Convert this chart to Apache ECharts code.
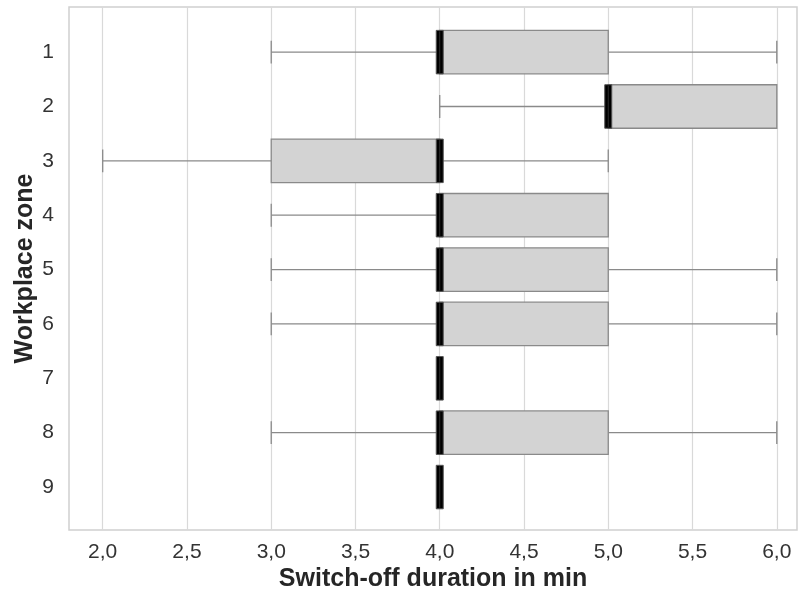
<!DOCTYPE html>
<html>
<head>
<meta charset="utf-8">
<script src="https://cdn.jsdelivr.net/npm/echarts@6/dist/echarts.min.js"></script>
<style>html,body{margin:0;padding:0;background:#fff}#c{width:798px;height:595px}</style>
</head>
<body>
<div id="c"></div>
<script>
// Workplace zones (categories, top to bottom)
const zones   = [1, 2, 3, 4, 5, 6, 7, 8, 9];
// Box statistics: whisker min, Q1, median, Q3, whisker max (min)
const mins    = [3.0, 4.0, 2.0, 3.0, 3.0, 3.0, 4.0, 3.0, 4.0];
const q1s     = [4.0, 5.0, 3.0, 4.0, 4.0, 4.0, 4.0, 4.0, 4.0];
const medians = [4.0, 5.0, 4.0, 4.0, 4.0, 4.0, 4.0, 4.0, 4.0];
const q3s     = [5.0, 6.0, 4.0, 5.0, 5.0, 5.0, 4.0, 5.0, 4.0];
const maxs    = [6.0, 6.0, 5.0, 5.0, 6.0, 6.0, 4.0, 6.0, 4.0];
// Tick values
const xTicks  = [2.0, 2.5, 3.0, 3.5, 4.0, 4.5, 5.0, 5.5, 6.0];
const yTicks  = zones;

const data = zones.map((z, i) => [z, mins[i], q1s[i], medians[i], q3s[i], maxs[i]]);

const font = 'Arial, "Liberation Sans", Helvetica, sans-serif';
const chart = echarts.init(document.getElementById('c'), null, {renderer: 'canvas'});

chart.setOption({
  animation: false,
  backgroundColor: '#fff',
  grid: {left: 69, right: 1, top: 7, bottom: 65, show: true, borderColor: '#d0d0d0', borderWidth: 1.5,
    containLabel: false, outerBoundsMode: 'none'},
  xAxis: {
    type: 'value', min: 1.8, max: 6.12,
    name: 'Switch-off duration in min', nameLocation: 'middle', nameGap: 37, nameMoveOverlap: false,
    nameTextStyle: {fontFamily: font, fontSize: 25, fontWeight: 'bold', color: '#262626'},
    axisLine: {show: false}, axisTick: {show: false, customValues: xTicks},
    axisLabel: {customValues: xTicks, margin: 12, fontFamily: font, fontSize: 21, color: '#333',
      formatter: v => v.toFixed(1).replace('.', ',')},
    splitLine: {show: true, lineStyle: {color: '#d9d9d9', width: 1.2}}
  },
  yAxis: {
    type: 'value', inverse: true, min: 0.17, max: 9.79,
    name: 'Workplace zone', nameLocation: 'middle', nameGap: 31, nameMoveOverlap: false,
    nameTextStyle: {fontFamily: font, fontSize: 25, fontWeight: 'bold', color: '#262626'},
    axisLine: {show: false}, axisTick: {show: false, customValues: yTicks},
    axisLabel: {customValues: yTicks, margin: 15, fontFamily: font, fontSize: 21, color: '#333',
      formatter: v => String(v)},
    splitLine: {show: false}
  },
  series: [{
    type: 'custom',
    coordinateSystem: 'cartesian2d',
    encode: {y: 0, x: [1, 2, 3, 4, 5]},
    data: data,
    renderItem: function (params, api) {
      const y = api.value(0), mn = api.value(1), q1 = api.value(2), md = api.value(3), q3 = api.value(4), mx = api.value(5);
      const unit = api.size([0, 1])[1];
      const boxH = unit * 0.8, capH = unit * 0.42;
      const p = v => api.coord([v, y]);
      const cy = p(md)[1];
      const lineStyle = {stroke: '#8a8a8a', lineWidth: 1.3};
      const ch = [];
      if (mn < q1) {
        ch.push({type: 'line', shape: {x1: p(mn)[0], y1: cy, x2: p(q1)[0], y2: cy}, style: lineStyle});
        ch.push({type: 'line', shape: {x1: p(mn)[0], y1: cy - capH / 2, x2: p(mn)[0], y2: cy + capH / 2}, style: lineStyle});
      }
      if (mx > q3) {
        ch.push({type: 'line', shape: {x1: p(q3)[0], y1: cy, x2: p(mx)[0], y2: cy}, style: lineStyle});
        ch.push({type: 'line', shape: {x1: p(mx)[0], y1: cy - capH / 2, x2: p(mx)[0], y2: cy + capH / 2}, style: lineStyle});
      }
      if (q3 > q1) {
        ch.push({type: 'rect', shape: {x: p(q1)[0], y: cy - boxH / 2, width: p(q3)[0] - p(q1)[0], height: boxH},
          style: {fill: '#d3d3d3', stroke: '#8a8a8a', lineWidth: 1.3}});
      }
      ch.push({type: 'rect', shape: {x: p(md)[0] - 3.5, y: cy - boxH / 2, width: 7, height: boxH},
        style: {fill: '#000', stroke: '#555', lineWidth: 1}});
      ch.push({type: 'line', shape: {x1: p(md)[0], y1: cy - boxH / 2 + 1, x2: p(md)[0], y2: cy + boxH / 2 - 1},
        style: {stroke: '#3a3a3a', lineWidth: 0.8}});
      return {type: 'group', children: ch};
    }
  }]
});
</script>
</body>
</html>
